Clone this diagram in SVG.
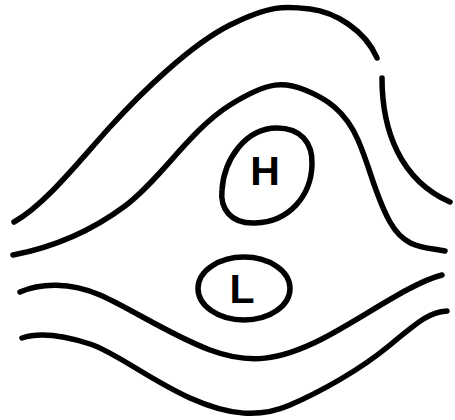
<svg xmlns="http://www.w3.org/2000/svg" width="455" height="420" viewBox="0 0 455 420">
<style>
.c{fill:none;stroke:#000;stroke-width:5.5;stroke-linecap:round;stroke-linejoin:round}
.t{font-family:"Liberation Sans",Arial,sans-serif;font-weight:bold;font-size:41px;fill:#000;text-anchor:middle}
</style>
<rect width="455" height="420" fill="#fff"/>
<g id="contours">
<path class="c" d="M14,222 C45,205 80,160 110,127 S190,45 230,25 S285,6 310,9 S365,30 377,58"/>
<path class="c" d="M382,78 C382,130 400,180 450,202"/>
<path class="c" d="M13,255 C50,248 90,232 125,206 S190,130 230,105 S285,82 305,90 S345,110 358,140 S375,195 390,222 S425,247 445,251"/>
<path class="c" d="M20,292 C40,283 70,282 100,295 S170,335 210,350 S280,360 320,340 S410,283 442,275"/>
<path class="c" d="M22,338 C40,332 65,336 90,344 S150,380 190,398 S260,418 290,405 S360,370 390,345 S430,312 447,311"/>
</g>
<g id="high">
<path class="c" d="M277,128 C300,128 313,142 312,165 C311,195 290,222 255,223 C230,224 220,208 222,190 C224,160 245,128 277,128 Z"/>
<text class="t" x="265" y="185">H</text>
</g>
<g id="low">
<ellipse class="c" cx="244" cy="288.5" rx="46" ry="31.5"/>
<text class="t" x="242" y="303">L</text>
</g>
</svg>
